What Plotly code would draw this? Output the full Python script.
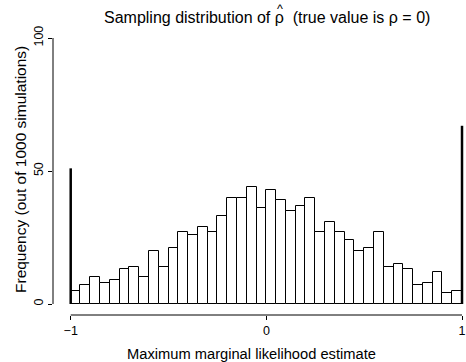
import numpy as np
import plotly.graph_objects as go

# Histogram of interior estimates, bins of width 0.05 on (-1, 1)
bin_lo, bin_hi, n_bins = -1.0, 1.0, 40
counts = [5, 7, 10, 8, 9, 13, 14, 10, 20, 14,
          21, 27, 26, 29, 27, 33, 40, 40, 44, 36,
          43, 39, 35, 37, 40, 27, 31, 27, 24, 20,
          21, 27, 14, 15, 13, 7, 8, 12, 4, 5]

# Estimates that landed exactly on the boundary
boundary_x = [-1, 1]
boundary_counts = [51, 67]

x_ticks = [-1, 0, 1]
x_ticktext = ["\u22121", "0", "1"]
y_ticks = [0, 50, 100]
y_ticktext = ["0", "50", "100"]

edges = np.linspace(bin_lo, bin_hi, n_bins + 1)
centers = (edges[:-1] + edges[1:]) / 2
width = edges[1] - edges[0]

FONT = "Liberation Sans, Arial, Helvetica, sans-serif"

fig = go.Figure()
fig.add_trace(go.Bar(
    x=centers, y=counts, width=width,
    marker=dict(color="white", line=dict(color="black", width=1)),
    hoverinfo="x+y",
))

# vertical spikes for the boundary counts
spike_x, spike_y = [], []
for bx, bc in zip(boundary_x, boundary_counts):
    spike_x += [bx, bx, None]
    spike_y += [0, bc, None]
fig.add_trace(go.Scatter(
    x=spike_x, y=spike_y, mode="lines",
    line=dict(color="black", width=2.5), hoverinfo="skip",
))

L, R, T, B = 53, 0, 38, 47
W, H = 466, 362
pw, ph = W - L - R, H - T - B


def px_x(p):
    return (p - L) / pw


def px_y(p):
    return (H - B - p) / ph


fig.update_layout(
    width=W, height=H,
    margin=dict(l=L, r=R, t=T, b=B, pad=0),
    paper_bgcolor="white", plot_bgcolor="white",
    showlegend=False,
    bargap=0,
    font=dict(family=FONT, color="black", size=12.5),
    xaxis=dict(
        range=[-1.0905, 1.0204], showgrid=False, zeroline=False, showline=False,
        tickmode="array", tickvals=x_ticks, ticktext=x_ticktext,
        ticks="outside", ticklen=4, tickwidth=1, tickcolor="black",
        tickfont=dict(size=12.5, family=FONT),
        fixedrange=True,
    ),
    yaxis=dict(
        range=[-4.135, 100], showgrid=False, zeroline=False, showline=False,
        tickmode="array", tickvals=y_ticks, ticktext=y_ticktext,
        ticks="outside", ticklen=4, tickwidth=1, tickcolor="black",
        tickangle=-90, tickfont=dict(size=12.5, family=FONT),
        fixedrange=True,
    ),
    shapes=[
        # detached axis lines spanning only the tick range
        dict(type="line", xref="paper", yref="y", x0=0, x1=0, y0=0, y1=100,
             line=dict(color="black", width=1)),
        dict(type="line", xref="x", yref="paper", x0=-1, x1=1, y0=0, y1=0,
             line=dict(color="black", width=1)),
    ],
    annotations=[
        dict(text="Sampling distribution of \u03c1  (true value is \u03c1 = 0)",
             xref="paper", yref="paper", x=px_x(266.5), y=px_y(17.5),
             xanchor="center", yanchor="middle", showarrow=False,
             font=dict(size=16, family=FONT)),
        # hat over the first rho
        dict(text="^",
             xref="paper", yref="paper", x=px_x(279.5), y=px_y(0.3),
             xanchor="center", yanchor="top", showarrow=False,
             font=dict(size=12.5, family=FONT)),
        dict(text="Maximum marginal likelihood estimate",
             xref="paper", yref="paper", x=px_x(251.5), y=px_y(354),
             xanchor="center", yanchor="middle", showarrow=False,
             font=dict(size=14.7, family=FONT)),
        dict(text="Frequency (out of 1000 simulations)",
             xref="paper", yref="paper", x=px_x(20), y=px_y(170),
             xanchor="center", yanchor="middle", showarrow=False, textangle=-90,
             font=dict(size=15.5, family=FONT)),
    ],
)

fig.write_html("out.html")
